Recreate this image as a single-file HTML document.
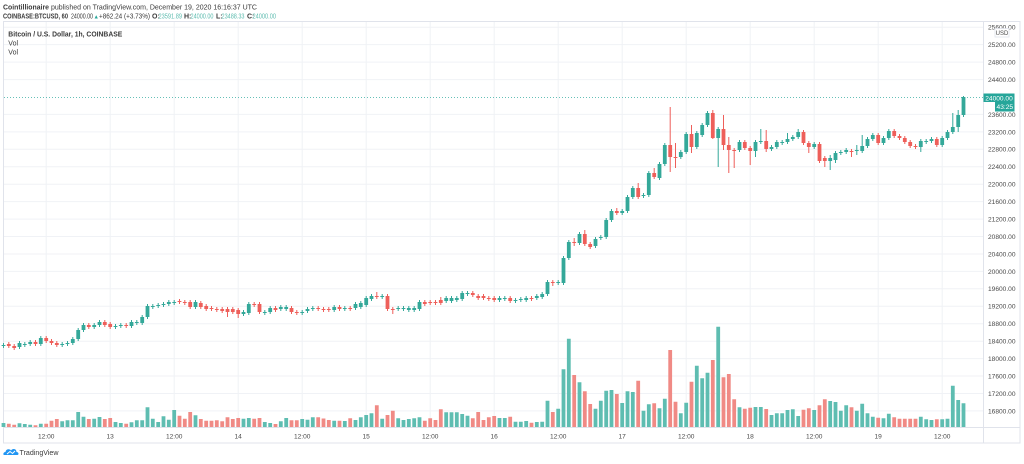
<!DOCTYPE html>
<html><head><meta charset="utf-8"><style>
html,body{margin:0;padding:0;background:#fff;width:1024px;height:464px;overflow:hidden}
svg{display:block}
text{font-family:"Liberation Sans",sans-serif;}
</style></head><body>
<svg width="1024" height="464" viewBox="0 0 1024 464" xmlns="http://www.w3.org/2000/svg">
<rect width="1024" height="464" fill="#fff"/>
<!-- header -->
<g font-size="7" fill="#3a3a3a">
<text x="3" y="9.3" font-weight="bold" textLength="46" lengthAdjust="spacingAndGlyphs">Cointillionaire</text>
<text x="51" y="9.3" textLength="206" lengthAdjust="spacingAndGlyphs">published on TradingView.com, December 19, 2020 16:16:37 UTC</text>
<text x="3" y="18.5" font-weight="bold" textLength="65" lengthAdjust="spacingAndGlyphs">COINBASE:BTCUSD, 60</text>
<text x="71" y="18.5" textLength="22" lengthAdjust="spacingAndGlyphs">24000.00</text>
<text x="93.5" y="18.3" fill="#26a69a" font-size="5.5">▲</text>
<text x="99" y="18.5" textLength="51" lengthAdjust="spacingAndGlyphs">+862.24 (+3.73%)</text>
<text x="152" y="18.5" font-weight="bold">O:</text>
<text x="158.5" y="18.5" fill="#5dbcaf" textLength="23.5" lengthAdjust="spacingAndGlyphs">23591.89</text>
<text x="184" y="18.5" font-weight="bold">H:</text>
<text x="190.5" y="18.5" fill="#5dbcaf" textLength="23" lengthAdjust="spacingAndGlyphs">24000.00</text>
<text x="216" y="18.5" font-weight="bold">L:</text>
<text x="221.5" y="18.5" fill="#5dbcaf" textLength="23" lengthAdjust="spacingAndGlyphs">23488.33</text>
<text x="247" y="18.5" font-weight="bold">C:</text>
<text x="252.5" y="18.5" fill="#5dbcaf" textLength="23.5" lengthAdjust="spacingAndGlyphs">24000.00</text>
</g>
<!-- frame -->
<rect x="3.5" y="21.5" width="1016.5" height="421.5" fill="none" stroke="#e0e3eb" stroke-width="1"/>
<!-- grid -->
<g stroke="#f0f2f6" stroke-width="1">
<path d="M4 27.2H983M4 44.6H983M4 62.1H983M4 79.6H983M4 114.4H983M4 131.9H983M4 149.3H983M4 166.8H983M4 184.2H983M4 201.6H983M4 219.1H983M4 236.5H983M4 254H983M4 271.4H983M4 288.8H983M4 306.3H983M4 323.7H983M4 341.2H983M4 358.6H983M4 376H983M4 393.5H983M4 410.9H983"/>
<path d="M46.2 22V427M110.2 22V427M174.2 22V427M238.2 22V427M302.2 22V427M366.2 22V427M430.2 22V427M494.2 22V427M558.2 22V427M622.2 22V427M686.2 22V427M750.2 22V427M814.2 22V427M878.2 22V427M942.2 22V427"/>
</g>
<!-- axes lines -->
<path d="M983.5 21.5V443M3.5 427.5H1020" stroke="#e0e3eb" stroke-width="1" fill="none"/>
<!-- dotted last price line -->
<path d="M4 97.5H983" stroke="#26a69a" stroke-width="1" stroke-dasharray="1 2" opacity="0.7"/>
<!-- legend -->
<g font-size="7" fill="#3a3a3a">
<text x="8.3" y="36.5" font-weight="bold" textLength="114" lengthAdjust="spacingAndGlyphs">Bitcoin / U.S. Dollar, 1h, COINBASE</text>
<text x="8.3" y="45.5">Vol</text>
<text x="8.3" y="54.5">Vol</text>
</g>
<!-- volume -->
<path fill="#5ebdb1" d="M1.6 427v-4h3.8V427zM17.6 427v-3.7h3.8V427zM22.9 427v-3h3.8V427zM28.3 427v-2.3h3.8V427zM38.9 427v-3.3h3.8V427zM60.3 427v-5.7h3.8V427zM65.6 427v-6.7h3.8V427zM70.9 427v-6.7h3.8V427zM76.3 427v-15h3.8V427zM81.6 427v-10.3h3.8V427zM92.3 427v-8.3h3.8V427zM97.6 427v-10h3.8V427zM113.6 427v-5h3.8V427zM118.9 427v-4h3.8V427zM129.6 427v-4.7h3.8V427zM134.9 427v-6.7h3.8V427zM140.3 427v-6.7h3.8V427zM145.6 427v-19.7h3.8V427zM150.9 427v-8.3h3.8V427zM156.3 427v-5h3.8V427zM161.6 427v-10.7h3.8V427zM166.9 427v-7.3h3.8V427zM172.3 427v-17h3.8V427zM193.6 427v-11.7h3.8V427zM241.6 427v-8.3h3.8V427zM246.9 427v-9h3.8V427zM262.9 427v-5h3.8V427zM268.3 427v-4h3.8V427zM278.9 427v-5.7h3.8V427zM284.3 427v-9h3.8V427zM300.3 427v-8h3.8V427zM305.6 427v-7.3h3.8V427zM310.9 427v-9.7h3.8V427zM332.3 427v-6.3h3.8V427zM342.9 427v-6h3.8V427zM353.6 427v-7h3.8V427zM358.9 427v-9.7h3.8V427zM364.3 427v-12h3.8V427zM369.6 427v-13.7h3.8V427zM380.3 427v-8.3h3.8V427zM396.3 427v-8.7h3.8V427zM401.6 427v-7h3.8V427zM406.9 427v-8h3.8V427zM412.3 427v-8.7h3.8V427zM417.6 427v-9.7h3.8V427zM444.3 427v-14.7h3.8V427zM449.6 427v-14.7h3.8V427zM454.9 427v-14.7h3.8V427zM460.3 427v-13h3.8V427zM465.6 427v-11.3h3.8V427zM497.6 427v-9h3.8V427zM502.9 427v-9h3.8V427zM513.6 427v-5.3h3.8V427zM518.9 427v-5.3h3.8V427zM524.3 427v-6h3.8V427zM534.9 427v-5h3.8V427zM540.3 427v-5.3h3.8V427zM545.6 427v-26.3h3.8V427zM556.3 427v-18.3h3.8V427zM561.6 427v-57.7h3.8V427zM566.9 427v-88.3h3.8V427zM577.6 427v-44.7h3.8V427zM593.6 427v-18.3h3.8V427zM598.9 427v-26.3h3.8V427zM604.3 427v-36.3h3.8V427zM609.6 427v-37h3.8V427zM620.3 427v-24h3.8V427zM625.6 427v-35.7h3.8V427zM630.9 427v-35h3.8V427zM641.6 427v-16.3h3.8V427zM646.9 427v-22.7h3.8V427zM657.6 427v-18.7h3.8V427zM662.9 427v-28.3h3.8V427zM678.9 427v-13.7h3.8V427zM684.3 427v-24.3h3.8V427zM694.9 427v-61.3h3.8V427zM700.3 427v-48.7h3.8V427zM705.6 427v-54.3h3.8V427zM716.3 427v-100.3h3.8V427zM737.6 427v-19.7h3.8V427zM753.6 427v-20h3.8V427zM758.9 427v-20h3.8V427zM769.6 427v-12h3.8V427zM774.9 427v-13.7h3.8V427zM780.3 427v-13.7h3.8V427zM785.6 427v-17h3.8V427zM790.9 427v-17.7h3.8V427zM796.3 427v-11h3.8V427zM812.3 427v-17h3.8V427zM828.3 427v-26h3.8V427zM833.6 427v-25h3.8V427zM838.9 427v-16.3h3.8V427zM844.3 427v-21.7h3.8V427zM854.9 427v-16.3h3.8V427zM860.3 427v-23.3h3.8V427zM865.6 427v-13.7h3.8V427zM870.9 427v-10.3h3.8V427zM881.6 427v-8.7h3.8V427zM886.9 427v-13.3h3.8V427zM918.9 427v-10.3h3.8V427zM924.3 427v-7.7h3.8V427zM929.6 427v-7h3.8V427zM940.3 427v-7.7h3.8V427zM945.6 427v-8.3h3.8V427zM950.9 427v-41.3h3.8V427zM956.3 427v-27h3.8V427zM961.6 427v-23.7h3.8V427z"/>
<path fill="#f08a85" d="M6.9 427v-3.3h3.8V427zM12.3 427v-2.3h3.8V427zM33.6 427v-1.7h3.8V427zM44.3 427v-3.3h3.8V427zM49.6 427v-6.3h3.8V427zM54.9 427v-8h3.8V427zM86.9 427v-8h3.8V427zM102.9 427v-8h3.8V427zM108.3 427v-9h3.8V427zM124.3 427v-3.3h3.8V427zM177.6 427v-11.3h3.8V427zM182.9 427v-8.3h3.8V427zM188.3 427v-15h3.8V427zM198.9 427v-8h3.8V427zM204.3 427v-6.3h3.8V427zM209.6 427v-6.3h3.8V427zM214.9 427v-6.7h3.8V427zM220.3 427v-5.7h3.8V427zM225.6 427v-9.7h3.8V427zM230.9 427v-8h3.8V427zM236.3 427v-9h3.8V427zM252.3 427v-8.3h3.8V427zM257.6 427v-9h3.8V427zM273.6 427v-3h3.8V427zM289.6 427v-6.7h3.8V427zM294.9 427v-6.7h3.8V427zM316.3 427v-9.7h3.8V427zM321.6 427v-8.5h3.8V427zM326.9 427v-7h3.8V427zM337.6 427v-6.3h3.8V427zM348.3 427v-8.7h3.8V427zM374.9 427v-21.7h3.8V427zM385.6 427v-12h3.8V427zM390.9 427v-16.3h3.8V427zM422.9 427v-6.3h3.8V427zM428.3 427v-8.7h3.8V427zM433.6 427v-7h3.8V427zM438.9 427v-17.7h3.8V427zM470.9 427v-8.7h3.8V427zM476.3 427v-15h3.8V427zM481.6 427v-7h3.8V427zM486.9 427v-9.7h3.8V427zM492.3 427v-11h3.8V427zM508.3 427v-10.3h3.8V427zM529.6 427v-4.3h3.8V427zM550.9 427v-15h3.8V427zM572.3 427v-52h3.8V427zM582.9 427v-35.7h3.8V427zM588.3 427v-23h3.8V427zM614.9 427v-33h3.8V427zM636.3 427v-46.3h3.8V427zM652.3 427v-23.7h3.8V427zM668.3 427v-77h3.8V427zM673.6 427v-25.3h3.8V427zM689.6 427v-45.3h3.8V427zM710.9 427v-67h3.8V427zM721.6 427v-49.7h3.8V427zM726.9 427v-53h3.8V427zM732.3 427v-27.7h3.8V427zM742.9 427v-18.3h3.8V427zM748.3 427v-19.3h3.8V427zM764.3 427v-18h3.8V427zM801.6 427v-17.3h3.8V427zM806.9 427v-18.7h3.8V427zM817.6 427v-21.7h3.8V427zM822.9 427v-27.7h3.8V427zM849.6 427v-19.7h3.8V427zM876.3 427v-9.3h3.8V427zM892.3 427v-9.7h3.8V427zM897.6 427v-8.3h3.8V427zM902.9 427v-8.3h3.8V427zM908.3 427v-8.3h3.8V427zM913.6 427v-8.3h3.8V427zM934.9 427v-7.7h3.8V427z"/>
<!-- green candles -->
<path stroke="#34a899" stroke-width="1" fill="none" d="M3.5 343V348M19.5 341V349M24.8 342V347M30.2 340V346M40.8 336V346M62.2 342V347M67.5 341V346M72.8 337V345M78.2 328V341M83.5 323V332M94.2 323V329M99.5 320V327M115.5 324V329M120.8 323V328M131.5 320V328M136.8 320V325M142.2 315V325M147.5 304V319M152.8 304V309M158.2 303V308M163.5 302V307M168.8 300V306M174.2 300V305M195.5 300V309M243.5 310V316M248.8 302V315M264.8 310V315M270.2 306V314M280.8 305V311M286.2 305V311M302.2 310V315M307.5 307V313M312.8 306V311M334.2 305V312M344.8 306V311M355.5 302V310M360.8 301V309M366.2 296V307M371.5 294V301M382.2 294V299M398.2 306V311M403.5 306V311M408.8 306V312M414.2 306V312M419.5 300V311M446.2 296V303M451.5 296V303M456.8 296V302M462.2 291V301M467.5 291V296M499.5 296V302M504.8 296V301M515.5 298V303M520.8 297V302M526.2 296V302M536.8 294V300M542.2 292V299M547.5 280V296M558.2 280V285M563.5 256V285M568.8 240V260M579.5 232V245M595.5 237V248M600.8 235V240M606.2 218V239M611.5 209V222M622.2 209V215M627.5 195V213M632.8 186V199M643.5 193V198M648.8 171V197M659.5 162V180M664.8 143V166M680.8 150V159M686.2 132V154M696.8 131V149M702.2 123V137M707.5 111V127M718.2 127V167M739.5 140V152M755.5 140V157M760.8 129V144M771.5 145V151M776.8 140V149M782.2 140V145M787.5 133V144M792.8 135V141M798.2 129V139M814.2 142V149M830.2 155V170M835.5 151V163M840.8 150V155M846.2 148V154M856.8 145V155M862.2 135V153M867.5 137V148M872.8 133V141M883.5 136V145M888.8 129V140M920.8 139V152M926.2 139V144M931.5 137V143M942.2 136V147M947.5 130V140M952.8 113V134M958.2 110V132M963.5 96V117"/>
<path fill="#34a899" d="M1.6 345h3.8V346h-3.8zM17.6 343h3.8V347h-3.8zM22.9 344h3.8V345h-3.8zM28.3 342h3.8V344h-3.8zM38.9 338h3.8V344h-3.8zM60.3 344h3.8V345h-3.8zM65.6 343h3.8V344h-3.8zM70.9 339h3.8V343h-3.8zM76.3 330h3.8V339h-3.8zM81.6 325h3.8V330h-3.8zM92.3 325h3.8V327h-3.8zM97.6 322h3.8V325h-3.8zM113.6 326h3.8V327h-3.8zM118.9 325h3.8V326h-3.8zM129.6 322h3.8V326h-3.8zM134.9 322h3.8V323h-3.8zM140.3 317h3.8V323h-3.8zM145.6 306h3.8V317h-3.8zM150.9 306h3.8V307h-3.8zM156.3 305h3.8V306h-3.8zM161.6 304h3.8V305h-3.8zM166.9 302h3.8V304h-3.8zM172.3 302h3.8V303h-3.8zM193.6 302h3.8V307h-3.8zM241.6 312h3.8V314h-3.8zM246.9 304h3.8V313h-3.8zM262.9 312h3.8V313h-3.8zM268.3 308h3.8V312h-3.8zM278.9 307h3.8V309h-3.8zM284.3 307h3.8V309h-3.8zM300.3 312h3.8V313h-3.8zM305.6 309h3.8V311h-3.8zM310.9 308h3.8V309h-3.8zM332.3 307h3.8V310h-3.8zM342.9 308h3.8V309h-3.8zM353.6 304h3.8V308h-3.8zM358.9 303h3.8V307h-3.8zM364.3 298h3.8V305h-3.8zM369.6 296h3.8V299h-3.8zM380.3 296h3.8V297h-3.8zM396.3 308h3.8V309h-3.8zM401.6 308h3.8V309h-3.8zM406.9 308h3.8V310h-3.8zM412.3 308h3.8V310h-3.8zM417.6 302h3.8V309h-3.8zM444.3 298h3.8V301h-3.8zM449.6 298h3.8V301h-3.8zM454.9 298h3.8V300h-3.8zM460.3 293h3.8V299h-3.8zM465.6 293h3.8V294h-3.8zM497.6 298h3.8V300h-3.8zM502.9 298h3.8V299h-3.8zM513.6 300h3.8V301h-3.8zM518.9 299h3.8V300h-3.8zM524.3 298h3.8V300h-3.8zM534.9 296h3.8V298h-3.8zM540.3 294h3.8V297h-3.8zM545.6 282h3.8V294h-3.8zM556.3 282h3.8V283h-3.8zM561.6 258h3.8V283h-3.8zM566.9 242h3.8V258h-3.8zM577.6 234h3.8V243h-3.8zM593.6 239h3.8V246h-3.8zM598.9 237h3.8V238h-3.8zM604.3 220h3.8V237h-3.8zM609.6 211h3.8V220h-3.8zM620.3 211h3.8V213h-3.8zM625.6 197h3.8V211h-3.8zM630.9 188h3.8V197h-3.8zM641.6 195h3.8V196h-3.8zM646.9 173h3.8V195h-3.8zM657.6 164h3.8V178h-3.8zM662.9 145h3.8V164h-3.8zM678.9 152h3.8V157h-3.8zM684.3 134h3.8V152h-3.8zM694.9 133h3.8V147h-3.8zM700.3 125h3.8V135h-3.8zM705.6 113h3.8V125h-3.8zM716.3 129h3.8V138h-3.8zM737.6 142h3.8V150h-3.8zM753.6 142h3.8V151h-3.8zM758.9 141h3.8V142h-3.8zM769.6 147h3.8V149h-3.8zM774.9 142h3.8V147h-3.8zM780.3 142h3.8V143h-3.8zM785.6 139h3.8V142h-3.8zM790.9 137h3.8V139h-3.8zM796.3 132h3.8V137h-3.8zM812.3 144h3.8V147h-3.8zM828.3 158h3.8V161h-3.8zM833.6 153h3.8V160h-3.8zM838.9 152h3.8V153h-3.8zM844.3 150h3.8V152h-3.8zM854.9 150h3.8V151h-3.8zM860.3 146h3.8V151h-3.8zM865.6 139h3.8V146h-3.8zM870.9 135h3.8V139h-3.8zM881.6 138h3.8V143h-3.8zM886.9 131h3.8V138h-3.8zM918.9 141h3.8V147h-3.8zM924.3 141h3.8V142h-3.8zM929.6 139h3.8V141h-3.8zM940.3 138h3.8V145h-3.8zM945.6 132h3.8V138h-3.8zM950.9 127h3.8V132h-3.8zM956.3 115h3.8V127h-3.8zM961.6 97h3.8V115h-3.8z"/>
<!-- red candles -->
<path stroke="#ee5f5a" stroke-width="1" fill="none" d="M8.8 342V348M14.2 344V350M35.5 340V346M46.2 336V343M51.5 339V345M56.8 341V347M88.8 323V329M104.8 320V327M110.2 322V329M126.2 323V328M179.5 299V304M184.8 300V305M190.2 300V309M200.8 301V309M206.2 304V311M211.5 306V311M216.8 307V312M222.2 307V313M227.5 307V317M232.8 307V314M238.2 308V318M254.2 302V307M259.5 302V314M275.5 306V312M291.5 306V314M296.8 310V315M318.2 306V311M323.5 307V312M328.8 307V312M339.5 305V311M350.2 306V311M376.8 292V299M387.5 294V311M392.8 307V314M424.8 300V306M430.2 300V305M435.5 300V305M440.8 297V305M472.8 291V297M478.2 294V300M483.5 294V300M488.8 296V301M494.2 296V302M510.2 296V303M531.5 296V301M552.8 280V286M574.2 238V246M584.8 230V246M590.2 242V249M616.8 208V215M638.2 183V199M654.2 168V179M670.2 107V172M675.5 143V168M691.5 125V153M712.8 110V139M723.5 115V150M728.8 137V173M734.2 148V168M744.8 140V150M750.2 146V165M766.2 130V152M803.5 130V145M808.8 141V153M819.5 142V163M824.8 156V167M851.5 149V157M878.2 133V145M894.2 129V138M899.5 134V140M904.8 136V144M910.2 140V148M915.5 144V149M936.8 137V147"/>
<path fill="#ee5f5a" d="M6.9 344h3.8V346h-3.8zM12.3 346h3.8V348h-3.8zM33.6 342h3.8V344h-3.8zM44.3 338h3.8V341h-3.8zM49.6 341h3.8V343h-3.8zM54.9 343h3.8V345h-3.8zM86.9 325h3.8V327h-3.8zM102.9 322h3.8V325h-3.8zM108.3 324h3.8V327h-3.8zM124.3 325h3.8V326h-3.8zM177.6 301h3.8V302h-3.8zM182.9 302h3.8V303h-3.8zM188.3 302h3.8V307h-3.8zM198.9 303h3.8V307h-3.8zM204.3 306h3.8V309h-3.8zM209.6 308h3.8V309h-3.8zM214.9 309h3.8V310h-3.8zM220.3 309h3.8V311h-3.8zM225.6 309h3.8V312h-3.8zM230.9 309h3.8V312h-3.8zM236.3 310h3.8V314h-3.8zM252.3 304h3.8V305h-3.8zM257.6 304h3.8V312h-3.8zM273.6 308h3.8V310h-3.8zM289.6 308h3.8V312h-3.8zM294.9 312h3.8V313h-3.8zM316.3 308h3.8V309h-3.8zM321.6 309h3.8V310h-3.8zM326.9 309h3.8V310h-3.8zM337.6 307h3.8V309h-3.8zM348.3 308h3.8V309h-3.8zM374.9 296h3.8V297h-3.8zM385.6 296h3.8V309h-3.8zM390.9 309h3.8V310h-3.8zM422.9 302h3.8V304h-3.8zM428.3 302h3.8V303h-3.8zM433.6 302h3.8V303h-3.8zM438.9 300h3.8V303h-3.8zM470.9 293h3.8V295h-3.8zM476.3 296h3.8V298h-3.8zM481.6 296h3.8V298h-3.8zM486.9 298h3.8V299h-3.8zM492.3 298h3.8V300h-3.8zM508.3 298h3.8V301h-3.8zM529.6 298h3.8V299h-3.8zM550.9 282h3.8V283h-3.8zM572.3 242h3.8V243h-3.8zM582.9 234h3.8V244h-3.8zM588.3 244h3.8V247h-3.8zM614.9 211h3.8V213h-3.8zM636.3 188h3.8V197h-3.8zM652.3 173h3.8V177h-3.8zM668.3 145h3.8V157h-3.8zM673.6 157h3.8V158h-3.8zM689.6 134h3.8V147h-3.8zM710.9 113h3.8V138h-3.8zM721.6 129h3.8V145h-3.8zM726.9 145h3.8V150h-3.8zM732.3 150h3.8V151h-3.8zM742.9 142h3.8V148h-3.8zM748.3 148h3.8V151h-3.8zM764.3 141h3.8V149h-3.8zM801.6 132h3.8V143h-3.8zM806.9 143h3.8V147h-3.8zM817.6 144h3.8V161h-3.8zM822.9 158h3.8V161h-3.8zM849.6 151h3.8V152h-3.8zM876.3 135h3.8V143h-3.8zM892.3 131h3.8V136h-3.8zM897.6 136h3.8V138h-3.8zM902.9 138h3.8V142h-3.8zM908.3 142h3.8V146h-3.8zM913.6 146h3.8V147h-3.8zM934.9 139h3.8V145h-3.8z"/>
<!-- price axis labels -->
<g font-size="6.6" fill="#4a4a4a">
<text x="988" y="29.6">25600.00</text>
<text x="988" y="47">25200.00</text>
<text x="988" y="64.5">24800.00</text>
<text x="988" y="82">24400.00</text>
<text x="988" y="116.8">23600.00</text>
<text x="988" y="134.3">23200.00</text>
<text x="988" y="151.7">22800.00</text>
<text x="988" y="169.2">22400.00</text>
<text x="988" y="186.6">22000.00</text>
<text x="988" y="204">21600.00</text>
<text x="988" y="221.5">21200.00</text>
<text x="988" y="238.9">20800.00</text>
<text x="988" y="256.4">20400.00</text>
<text x="988" y="273.8">20000.00</text>
<text x="988" y="291.2">19600.00</text>
<text x="988" y="308.7">19200.00</text>
<text x="988" y="326.1">18800.00</text>
<text x="988" y="343.6">18400.00</text>
<text x="988" y="361">18000.00</text>
<text x="988" y="378.4">17600.00</text>
<text x="988" y="395.9">17200.00</text>
<text x="988" y="413.3">16800.00</text>
</g>
<!-- USD box -->
<rect x="995" y="28.5" width="14" height="8.5" fill="#fff" stroke="#e0e3eb" stroke-width="0.8"/>
<text x="1002" y="35" font-size="6" fill="#4a4a4a" text-anchor="middle">USD</text>
<!-- last price label -->
<rect x="983.5" y="93.5" width="31" height="8.5" fill="#26a69a"/>
<text x="999" y="100.3" font-size="6.6" fill="#fff" text-anchor="middle">24000.00</text>
<rect x="995" y="102" width="19.5" height="9.5" fill="#26a69a"/>
<text x="1004.8" y="109.2" font-size="6.6" fill="#fff" text-anchor="middle">43:25</text>
<!-- time labels -->
<g font-size="6.6" fill="#4a4a4a" text-anchor="middle">
<text x="46.2" y="438.5">12:00</text>
<text x="110.2" y="438.5">13</text>
<text x="174.2" y="438.5">12:00</text>
<text x="238.2" y="438.5">14</text>
<text x="302.2" y="438.5">12:00</text>
<text x="366.2" y="438.5">15</text>
<text x="430.2" y="438.5">12:00</text>
<text x="494.2" y="438.5">16</text>
<text x="558.2" y="438.5">12:00</text>
<text x="622.2" y="438.5">17</text>
<text x="686.2" y="438.5">12:00</text>
<text x="750.2" y="438.5">18</text>
<text x="814.2" y="438.5">12:00</text>
<text x="878.2" y="438.5">19</text>
<text x="942.2" y="438.5">12:00</text>
</g>
<!-- TradingView logo -->
<g transform="translate(3,447)">
<path d="M1 8 C0 8 0 5 2.5 5 C3 2 6.5 1.5 8 3.5 C9.5 1 13.5 1.5 13.5 5 C16 5 16 8 14.5 8 Z" fill="#2196f3"/>
<path d="M4 7 L7 4.5 L9.5 6.5 L12 4" stroke="#fff" stroke-width="1" fill="none"/>
</g>
<text x="19.5" y="455" font-size="7" fill="#3a3a3a" textLength="39" lengthAdjust="spacingAndGlyphs">TradingView</text>
</svg>
</body></html>
